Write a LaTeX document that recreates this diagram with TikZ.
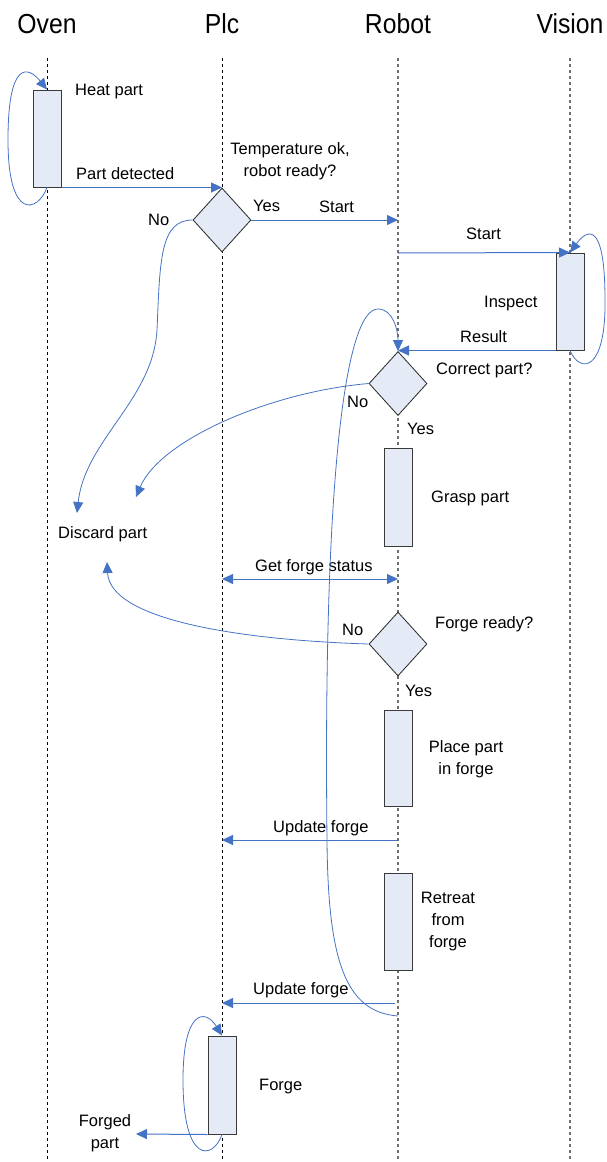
\documentclass[tikz,border=0pt]{standalone}
\usepackage{fontspec}
\setmainfont{Liberation Sans}
\newfontfamily\titlefont[FakeStretch=0.9]{Liberation Sans}
\usetikzlibrary{shapes.geometric,arrows.meta,calc}
\definecolor{msgblue}{HTML}{4472C4}
\definecolor{actfill}{HTML}{E4EBF6}
\definecolor{actdraw}{HTML}{3A3A3A}
\definecolor{lifegray}{HTML}{6E6E6E}
\begin{document}
\begin{tikzpicture}[x=1pt,y=-1pt,
  title/.style={font=\titlefont\fontsize{27.5}{30}\selectfont, anchor=base, inner sep=0},
  lbl/.style={font=\fontsize{16.5}{22}\selectfont, inner sep=0, anchor=base west},
  mlbl/.style={font=\fontsize{16.5}{22}\selectfont, inner sep=0, align=center},
  lifeline/.style={dash pattern=on 3pt off 3pt, line width=0.9pt},
  actbox/.style={rectangle, draw=actdraw, fill=actfill, line width=1pt, minimum width=28pt, inner sep=0},
  decision/.style={diamond, draw=black!85, fill=actfill, line width=0.8pt, minimum width=58pt, minimum height=64pt, inner sep=0},
  tip/.tip={Triangle[length=11pt,width=10pt]},
  msg/.style={draw=msgblue, line width=1pt, -tip},
  flow/.style={draw=msgblue, line width=0.8pt, -tip}]
\useasboundingbox (0,0) rectangle (606,1162);

% participants
\node[title] (tOven)   at (47,33)  {Oven};
\node[title] (tPlc)    at (222,33) {Plc};
\node[title] (tRobot)  at (398,33) {Robot};
\node[title] (tVision) at (570,33) {Vision};

% lifelines
\coordinate (oT) at (47,58);  \coordinate (oB) at (47,1162);
\coordinate (pT) at (222,58); \coordinate (pB) at (222,1162);
\coordinate (rT) at (398,58); \coordinate (rB) at (398,1162);
\coordinate (vT) at (570,58); \coordinate (vB) at (570,1162);
\draw[lifeline] (oT) -- (oB);
\draw[lifeline] (pT) -- (pB);
\draw[lifeline, lifegray, line width=1.1pt] (rT) -- (rB);
\draw[lifeline, lifegray, line width=1.1pt] (vT) -- (vB);

% activations
\node[actbox, minimum height=97pt] (heat)    at (47,138.5)  {};
\node[actbox, minimum height=97pt] (vis)     at (570,301.5) {};
\node[actbox, minimum height=98pt] (grasp)   at (398,497)   {};
\node[actbox, minimum height=96pt] (place)   at (398,758)   {};
\node[actbox, minimum height=97pt] (retreat) at (398,921.5) {};
\node[actbox, minimum height=98pt] (forge)   at (222,1085)  {};

% decisions
\node[decision] (d1) at (222,220)   {};
\node[decision] (d2) at (398,383.5) {};
\node[decision] (d3) at (398,644)   {};

% labels
\node[lbl] (lHeat) at (75,95) {Heat part};
\node[lbl] (lPD) at (76,179) {Part detected};
\node[mlbl] (lTemp) at (290,161.5) {Temperature ok,\\robot ready?};
\node[lbl] (lYes1) at (253,211) {Yes};
\node[lbl] (lStart1) at (319,212) {Start};
\node[lbl] (lNo1) at (148,225) {No};
\node[lbl] (lStart2) at (466,239) {Start};
\node[lbl] (lInspect) at (484,307) {Inspect};
\node[lbl] (lResult) at (460,342) {Result};
\node[lbl] (lCorrect) at (436,374) {Correct part?};
\node[lbl] (lNo2) at (347,407) {No};
\node[lbl] (lYes2) at (407,434) {Yes};
\node[lbl] (lGrasp) at (431,502) {Grasp part};
\node[lbl] (discard) at (58,538) {Discard part};
\node[lbl] (lGfs) at (255,571) {Get forge status};
\node[lbl] (lNo3) at (342,635) {No};
\node[lbl] (lReady) at (435,628) {Forge ready?};
\node[lbl] (lYes3) at (405,696) {Yes};
\node[mlbl] (lPlace) at (466,759) {Place part\\in forge};
\node[lbl] (lUf1) at (273,832) {Update forge};
\node[mlbl] (lRetreat) at (448,922) {Retreat\\from\\forge};
\node[lbl] (lUf2) at (253,994) {Update forge};
\node[lbl] (lForge) at (259,1090) {Forge};
\node[mlbl] (lForged) at (105,1133.5) {Forged\\part};

% message end points
\coordinate (s2)    at (398,253);
\coordinate (gfsP)  at (222,579);
\coordinate (gfsR)  at (398,579);
\coordinate (uf1)   at (398,840);
\coordinate (uf2)   at (395,1003);
\coordinate (fpEnd) at (136,1134);
\coordinate (dIn1)  at (77,513);
\coordinate (dIn2)  at (136,497);
\coordinate (dIn3)  at (107,562);
\coordinate (back)  at (398,1016);

% messages
\draw[msg] (heat.south east) -- (heat.south east -| pT);
\draw[msg] (d1.east) -- (d1.east -| rT);
\draw[msg] (s2) -- (vis.north);
\draw[msg] (vis.south west) -- (vis.south west -| rT);
\draw[msg, tip-tip] (gfsP) -- (gfsR);
\draw[msg] (uf1) -- (uf1 -| pT);
\draw[msg] (uf2) -- (uf2 -| pT);
\draw[msg] (forge.south west) -- (fpEnd);

% self loops
\draw[flow] (heat.south) .. controls (38,212) and (8,222) .. (8,140)
  .. controls (8,60) and (28,66) .. (heat.north);
\draw[flow] (vis.south) .. controls (580,374) and (606,372) .. (605,300)
  .. controls (605,222) and (588,228) .. (vis.north);
\draw[flow] (forge.south) .. controls (213,1160) and (183,1165) .. (183,1080)
  .. controls (183,1010) and (205,1008) .. (forge.north);

% rejected branches
\draw[flow] (d1.west) .. controls (160,220) and (160,260) .. (157,330)
  .. controls (153,400) and (85,440) .. (dIn1);
\draw[flow] (d2.west) .. controls (270,392) and (160,440) .. (dIn2);
\draw[flow] (d3.west) .. controls (240,640) and (110,620) .. (dIn3);

% loop back to the part check
\draw[flow] (back) .. controls (345,1012) and (328,960) .. (327,840)
  .. controls (323,480) and (345,309) .. (378,309)
  .. controls (393,309) and (398,330) .. (d2.north);
\end{tikzpicture}
\end{document}
